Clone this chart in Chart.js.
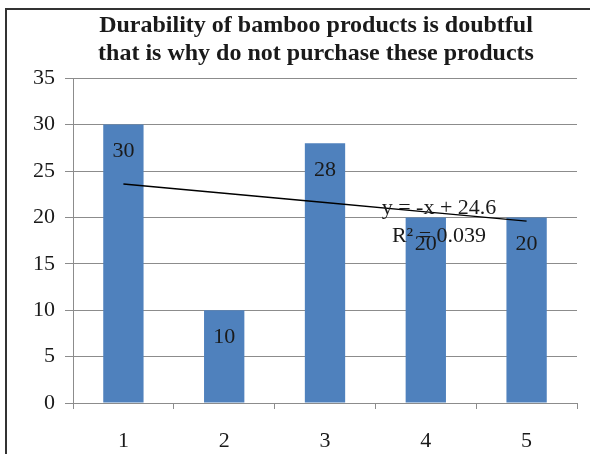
<!DOCTYPE html>
<html>
<head>
<meta charset="utf-8">
<script src="https://cdn.jsdelivr.net/npm/chart.js@4/dist/chart.umd.min.js"></script>
<style>
  html, body { margin: 0; padding: 0; background: #ffffff; }
  #wrap { width: 590px; height: 454px; position: relative; }
</style>
</head>
<body>
<div id="wrap"><canvas id="c" width="590" height="454"></canvas></div>
<script>
// Survey responses per rating
const categories = ['1', '2', '3', '4', '5'];
const responses = [30, 10, 28, 20, 20];
const titleLines = ['Durability of bamboo products is doubtful', 'that is why do not purchase these products'];
const trendEquation = 'y = -x + 24.6';
const trendR2 = 'R² = 0.039';

// Linear least-squares trend over the category index (1..n)
const xs = categories.map((_, i) => i + 1);
const n = xs.length;
const mx = xs.reduce((a, b) => a + b, 0) / n;
const my = responses.reduce((a, b) => a + b, 0) / n;
let sxy = 0, sxx = 0;
xs.forEach((x, i) => { sxy += (x - mx) * (responses[i] - my); sxx += (x - mx) * (x - mx); });
const slope = sxy / sxx;
const intercept = my - slope * mx;
const trend = xs.map(x => intercept + slope * x);

const FONT = "'Liberation Serif', 'Times New Roman', serif";
const TXT = '#1a1a1a';
const GRID = '#8c8c8c';

// Outer frame, title centring and value/equation labels
const decor = {
  id: 'decor',
  afterLayout(chart) {
    // centre the title a little right of the canvas middle, over the y-axis + plot
    if (chart.titleBlock) {
      chart.titleBlock.left = 55;
      chart.titleBlock.right = chart.chartArea.right;
      chart.titleBlock.width = chart.titleBlock.right - chart.titleBlock.left;
    }
  },
  beforeDraw(chart) {
    const ctx = chart.ctx;
    ctx.save();
    ctx.strokeStyle = '#333333';
    ctx.lineWidth = 2;
    ctx.strokeRect(6, 9, 600, 460);
    ctx.restore();
  },
  afterDatasetsDraw(chart) {
    const ctx = chart.ctx;
    const meta = chart.getDatasetMeta(0);
    ctx.save();
    ctx.font = '22px ' + FONT;
    ctx.fillStyle = TXT;
    ctx.textAlign = 'center';
    ctx.textBaseline = 'middle';
    meta.data.forEach((bar, i) => {
      ctx.fillText(String(responses[i]), bar.x, bar.y + 27);
    });
    const ca = chart.chartArea;
    ctx.fillText(trendEquation, ca.right - 138, 208);
    ctx.fillText(trendR2, ca.right - 138, 236);
    ctx.restore();
  }
};

new Chart(document.getElementById('c'), {
  data: {
    labels: categories,
    datasets: [
      {
        type: 'bar',
        data: responses,
        backgroundColor: '#4f81bd',
        borderWidth: 0,
        barPercentage: 0.4,
        categoryPercentage: 1.0,
        order: 2
      },
      {
        type: 'line',
        data: trend,
        borderColor: '#000000',
        borderWidth: 1.4,
        pointRadius: 0,
        fill: false,
        tension: 0,
        order: 1
      }
    ]
  },
  options: {
    responsive: false,
    animation: false,
    layout: { padding: { left: 0, right: 13, top: 0, bottom: 0 } },
    plugins: {
      legend: { display: false },
      tooltip: { enabled: false },
      title: {
        display: true,
        text: titleLines,
        color: TXT,
        font: { family: FONT, size: 24, weight: 'bold', lineHeight: 1.15 },
        padding: { top: 12, bottom: 11 }
      }
    },
    scales: {
      x: {
        offset: true,
        grid: { display: true, drawOnChartArea: false, offset: true, color: GRID, tickLength: 6 },
        border: { color: GRID, width: 1 },
        ticks: { color: TXT, font: { family: FONT, size: 22 }, padding: 19 },
        afterFit(scale) { scale.height = 51; }
      },
      y: {
        min: 0,
        max: 35,
        ticks: { stepSize: 5, color: TXT, font: { family: FONT, size: 22 }, padding: 10 },
        grid: { color: GRID, tickLength: 8 },
        border: { color: GRID, width: 1 },
        afterFit(scale) { scale.width = 73; }
      }
    }
  },
  plugins: [decor]
});
</script>
</body>
</html>
